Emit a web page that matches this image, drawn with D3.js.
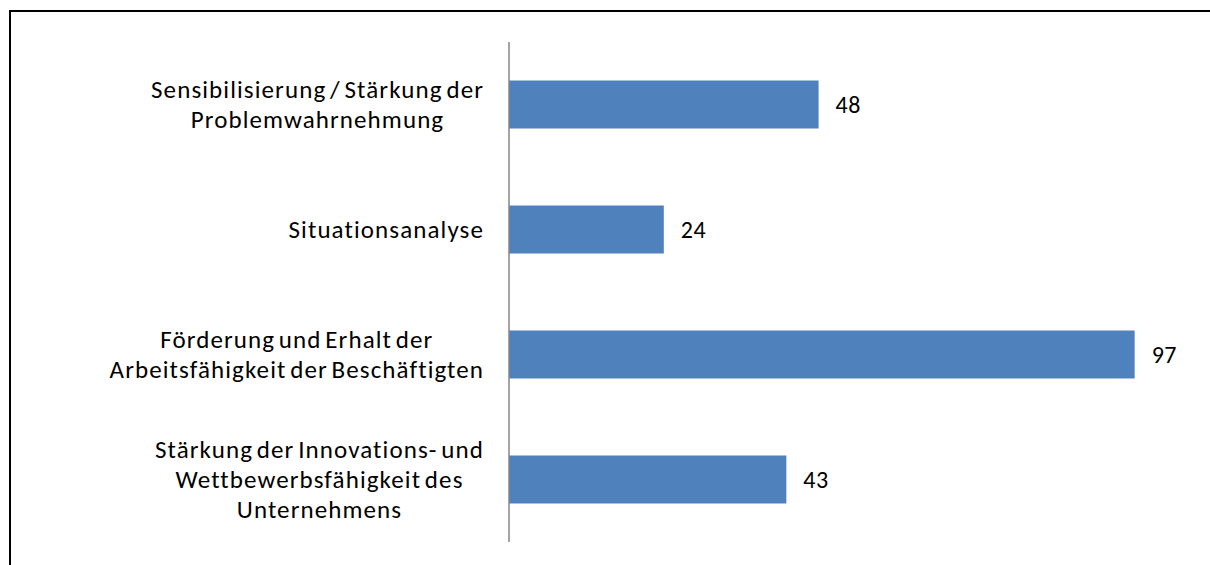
<!DOCTYPE html>
<html>
<head>
<meta charset="utf-8">
<script src="https://cdn.jsdelivr.net/npm/d3@7"></script>
<style>
  body { margin: 0; background: #fff; }
  svg { display: block; }
  .label { font-family: Carlito, Lato, sans-serif; font-size: 25px; letter-spacing: 1.1px; word-spacing: -3px; fill: #000; }
  .value { font-size: 24px; letter-spacing: 0.5px; word-spacing: 0; }
</style>
</head>
<body>
<svg id="chart"></svg>
<script>
// Chart data
const categories = [
  ['Sensibilisierung / Stärkung der', 'Problemwahrnehmung'],
  ['Situationsanalyse'],
  ['Förderung und Erhalt der', 'Arbeitsfähigkeit der Beschäftigten'],
  ['Stärkung der Innovations- und', 'Wettbewerbsfähigkeit des', 'Unternehmens']
];
const values = [48, 24, 97, 43];
const xDomain = [0, 100];

const config = {
  width: 1210,
  height: 565,
  margin: { top: 42, right: 56, bottom: 23, left: 509 },
  lineHeight: 30,
  labelRight: 484
};

const innerW = config.width - config.margin.left - config.margin.right;
const innerH = config.height - config.margin.top - config.margin.bottom;

const svg = d3.select('#chart')
  .attr('width', config.width)
  .attr('height', config.height);

// outer frame (right / bottom edges run off the picture)
svg.append('rect')
  .attr('x', 10)
  .attr('y', 11)
  .attr('width', 1220)
  .attr('height', 580)
  .attr('fill', 'none')
  .attr('stroke', '#000')
  .attr('stroke-width', 2);

const chart = svg.append('g')
  .attr('transform', `translate(${config.margin.left},${config.margin.top})`);

// Scales
const xScale = d3.scaleLinear()
  .domain(xDomain)
  .range([0, innerW]);

const yScale = d3.scaleBand()
  .domain(d3.range(categories.length))
  .range([0, innerH])
  .paddingInner(0.616)
  .paddingOuter(0.308);

// Bars
chart.selectAll('.bar')
  .data(values)
  .join('rect')
  .attr('class', 'bar')
  .attr('x', xScale(0))
  .attr('y', (d, i) => yScale(i))
  .attr('width', d => xScale(d) - xScale(0))
  .attr('height', yScale.bandwidth())
  .attr('fill', '#4F81BD');

// Value labels
chart.selectAll('.value')
  .data(values)
  .join('text')
  .attr('class', 'label value')
  .attr('x', d => xScale(d) + 17)
  .attr('y', (d, i) => yScale(i) + yScale.bandwidth() / 2)
  .attr('dy', '0.35em')
  .text(d => d);

// Category axis line
chart.append('line')
  .attr('x1', 0)
  .attr('x2', 0)
  .attr('y1', 0)
  .attr('y2', innerH)
  .attr('stroke', '#868686')
  .attr('stroke-width', 1.5);

// Category labels: lines centred within a right-aligned block
categories.forEach((lines, i) => {
  const cy = config.margin.top + yScale(i) + yScale.bandwidth() / 2;
  const g = svg.append('g');
  const texts = g.selectAll('text')
    .data(lines)
    .join('text')
    .attr('class', 'label')
    .attr('text-anchor', 'middle')
    .attr('y', (d, j) => cy + (j - (lines.length - 1) / 2) * config.lineHeight)
    .attr('dy', '0.35em')
    .text(d => d);
  const maxW = d3.max(texts.nodes(), n => n.getComputedTextLength());
  texts.attr('x', config.labelRight - maxW / 2);
});
</script>
</body>
</html>
